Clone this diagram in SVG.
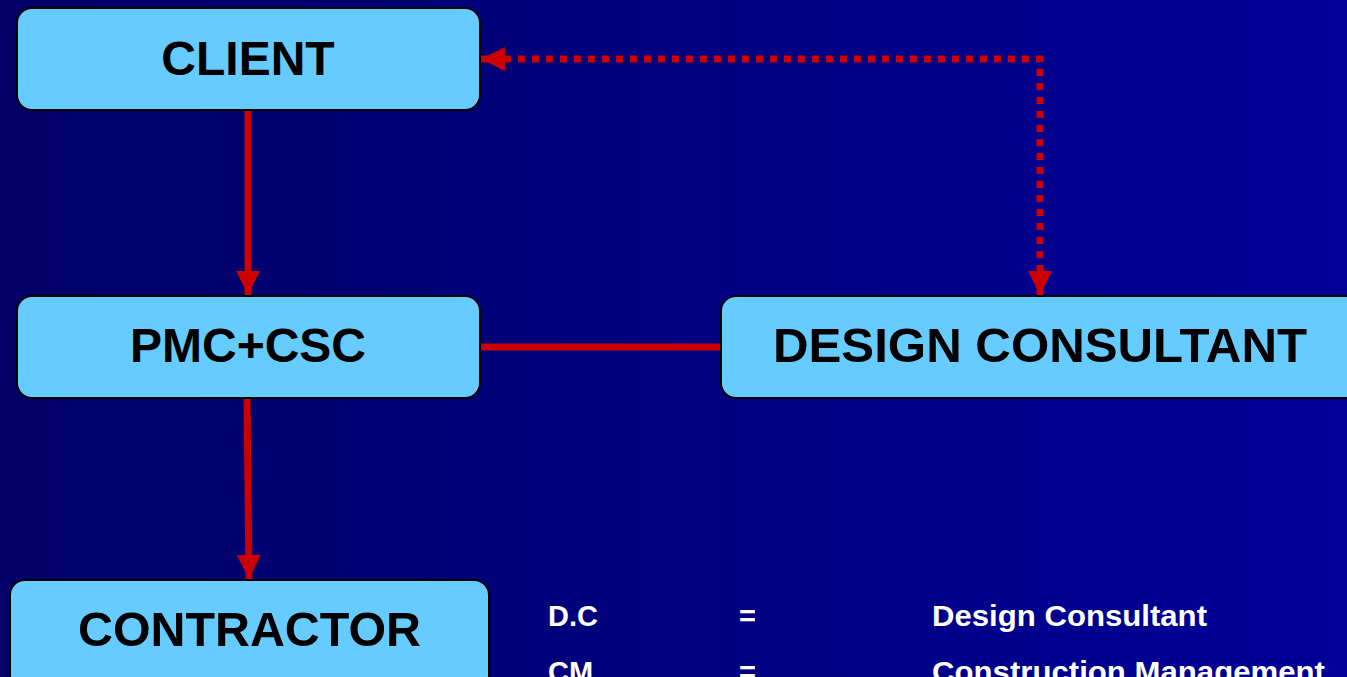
<svg xmlns="http://www.w3.org/2000/svg" width="1347" height="677" viewBox="0 0 1347 677">
  <defs>
    <linearGradient id="bg" x1="0" y1="0" x2="1" y2="0">
      <stop offset="0" stop-color="#000066"/>
      <stop offset="1" stop-color="#000099"/>
    </linearGradient>
    <marker id="head" markerUnits="userSpaceOnUse" markerWidth="26" markerHeight="26" viewBox="0 0 26 26" refX="24" refY="13" orient="auto">
      <path d="M0,1 L24,13 L0,25 Z" fill="#cc0000"/>
    </marker>
    <style>
      .box { fill: #66ccff; stroke: #000; stroke-width: 2; }
      .label { font-family: "Liberation Sans", Arial, sans-serif; font-weight: bold; font-size: 48px; fill: #000; text-anchor: middle; }
      .legend { font-family: "Liberation Sans", Arial, sans-serif; font-weight: bold; font-size: 29px; fill: #fff; }
      .solid { stroke: #cc0000; stroke-width: 7; fill: none; }
      .dotted { stroke: #cc0000; stroke-width: 7; fill: none; stroke-dasharray: 7 7; }
    </style>
  </defs>

  <rect width="1347" height="677" fill="url(#bg)"/>

  <!-- connectors -->
  <g id="connectors">
    <line class="solid" x1="248" y1="110" x2="248" y2="295" marker-end="url(#head)"/>
    <line class="solid" x1="247" y1="398" x2="249" y2="579" marker-end="url(#head)"/>
    <line class="solid" x1="480" y1="347" x2="721" y2="347"/>
    <polyline class="dotted" points="1040,272 1040,59 502,59"/>
    <line class="solid" x1="500" y1="59" x2="481" y2="59" marker-end="url(#head)"/>
    <line class="solid" x1="1040" y1="274" x2="1040" y2="295" marker-end="url(#head)"/>
  </g>

  <g id="client">
    <rect class="box" x="17" y="8" width="463" height="102" rx="15"/>
    <text class="label" x="248" y="75">CLIENT</text>
  </g>

  <g id="pmc-csc">
    <rect class="box" x="17" y="296" width="463" height="102" rx="15"/>
    <text class="label" x="248" y="362">PMC+CSC</text>
  </g>

  <g id="design-consultant">
    <rect class="box" x="721" y="296" width="640" height="102" rx="15"/>
    <text class="label" x="1040" y="362" textLength="534" lengthAdjust="spacingAndGlyphs">DESIGN CONSULTANT</text>
  </g>

  <g id="contractor">
    <rect class="box" x="10" y="580" width="479" height="110" rx="15"/>
    <text class="label" x="249.5" y="646" textLength="343" lengthAdjust="spacingAndGlyphs">CONTRACTOR</text>
  </g>

  <!-- abbreviations -->
  <g id="legend">
    <text class="legend" x="548" y="626">D.C</text>
    <text class="legend" x="739" y="626">=</text>
    <text class="legend" x="932" y="626" textLength="275" lengthAdjust="spacingAndGlyphs">Design Consultant</text>
    <text class="legend" x="548" y="682">CM</text>
    <text class="legend" x="739" y="682">=</text>
    <text class="legend" x="932" y="682" textLength="393" lengthAdjust="spacingAndGlyphs">Construction Management</text>
  </g>
</svg>
